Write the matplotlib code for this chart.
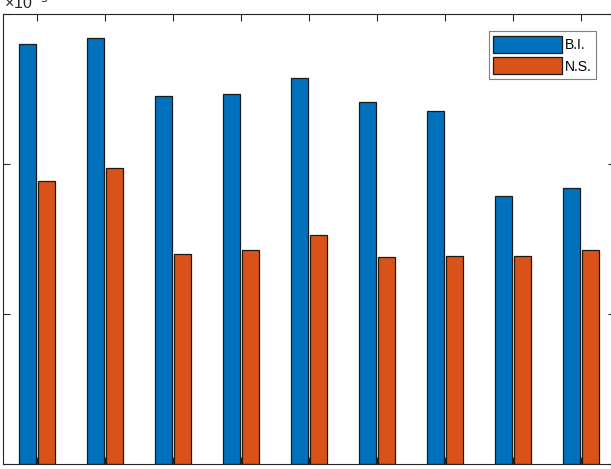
import matplotlib
matplotlib.use("Agg")
import matplotlib.pyplot as plt
import numpy as np

# values, in units of 1e-3
groups = np.arange(1, 10)
bi_vals = [2.80, 2.84, 2.455, 2.465, 2.575, 2.415, 2.355, 1.785, 1.84]
ns_vals = [1.89, 1.975, 1.40, 1.425, 1.525, 1.38, 1.39, 1.39, 1.425]
series_names = ["B.I.", "N.S."]
y_ticks = [0, 1, 2, 3]

plt.rcParams['font.family'] = ['Liberation Sans', 'DejaVu Sans']

W, H = 611, 469
fig = plt.figure(figsize=(W / 100, H / 100), dpi=100)
# axes box runs a little past the right edge, like the cropped original
ax = fig.add_axes([3 / W, 5 / H, 612 / W, 450 / H])

bw = 0.25
off = 0.135
ax.bar(groups - off, bi_vals, width=bw, color="#0072BD", edgecolor="#1a1a1a",
       linewidth=0.9, label=series_names[0])
ax.bar(groups + off, ns_vals, width=bw, color="#D95319", edgecolor="#1a1a1a",
       linewidth=0.9, label=series_names[1])

ax.set_xlim(0.5, 9.5)
ax.set_ylim(0, 3)
ax.set_xticks(groups)
ax.set_yticks(y_ticks)
ax.tick_params(direction="in", length=5, width=0.8, color="#262626",
               top=True, right=True, labelbottom=False, labelleft=False)
for sp in ax.spines.values():
    sp.set_color("#262626")
    sp.set_linewidth(0.8)

# exponent label, partly cut off by the top edge as in the original
fig.text(4 / W, 1 - 9 / H, "×10$^{-3}$", fontsize=11.5, color="#262626",
         ha="left", va="baseline")

leg = ax.legend(loc="upper right", bbox_to_anchor=(596 / W, 1 - 31.5 / H),
                bbox_transform=fig.transFigure, borderaxespad=0,
                fontsize=10, handlelength=5.0, handleheight=1.5,
                handletextpad=0.2, labelspacing=0.35, borderpad=0.3,
                fancybox=False, framealpha=1, edgecolor="#7f7f7f")
leg.get_frame().set_linewidth(0.8)

fig.savefig("out.png", dpi=100)
